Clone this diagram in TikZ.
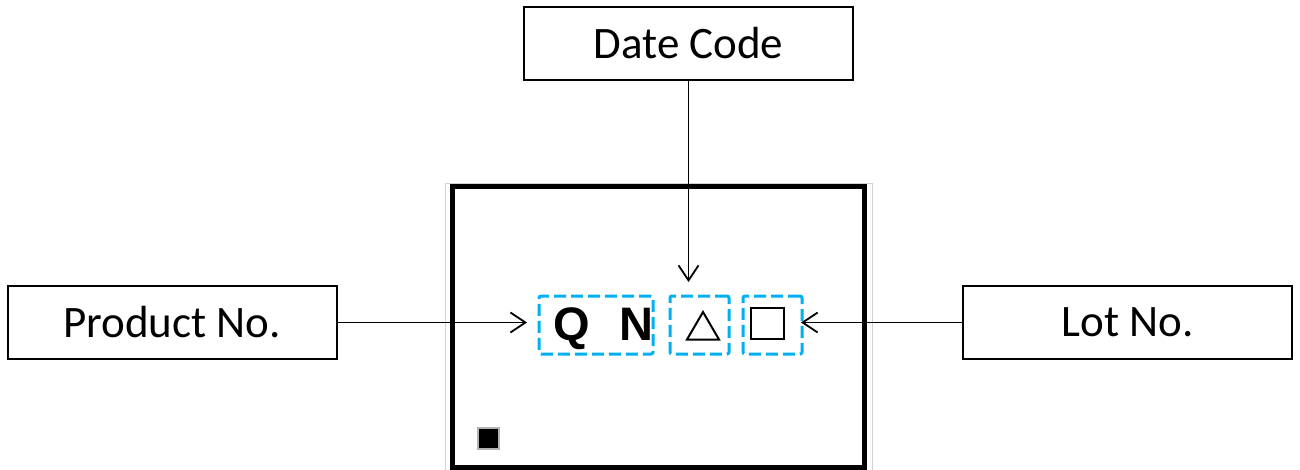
\documentclass[tikz,border=0pt]{standalone}
\usepackage{fontspec}
\setmainfont{Carlito}
\newfontfamily\arialfont{Liberation Sans}
\usetikzlibrary{arrows.meta}
\definecolor{dashblue}{HTML}{00B0F0}
\tikzset{
  labelbox/.style={draw=black, line width=2pt, minimum width=329pt, minimum height=73pt, inner sep=0pt, font=\fontsize{45}{54}\selectfont},
  markbox/.style={draw=dashblue, line width=3pt, dash pattern=on 12pt off 5pt, rounded corners=2pt, inner sep=0pt, minimum height=58pt},
  conn/.style={line width=1.8pt, -{Straight Barb[length=15pt,width=20pt,line width=1.8pt]}},
  letter/.style={font=\arialfont\bfseries\fontsize{47}{50}\selectfont, inner sep=0pt, anchor=base}
}
\begin{document}
\begin{tikzpicture}[x=1pt,y=-1pt]
\useasboundingbox (0,0) rectangle (1300,470);
% package outline
\draw[gray!35, line width=1pt] (445,480) -- (445,184) -- (872,184) -- (872,480);
\draw[black, line width=5pt] (452.5,467) rectangle (864,187);
% pin-1 mark
\node[draw=gray!60, fill=black, line width=2pt, minimum size=21pt, inner sep=0pt] (pin) at (488,438.5) {};
% marking boxes
\node[markbox, minimum width=114pt] (qn) at (596,325) {};
\node[markbox, minimum width=59pt] (tri) at (699.5,325) {};
\node[markbox, minimum width=59pt] (sq) at (772.5,325) {};
\node[letter] (q) at (572,340.5) {Q};
\node[letter] (n) at (636,340.5) {N};
\draw[line width=2pt, line join=miter] (687,339.5) -- (719,339.5) -- (703,312) -- cycle;
\draw[line width=2.5pt] (751,308) rectangle (784,339);
% label boxes
\node[labelbox] (date) at (688.5,43.5) {Date Code};
\node[labelbox] (prod) at (172,322.5) {Product No.};
\node[labelbox] (lot) at (1127.5,322.5) {Lot No.};
% connectors
\coordinate (dtip) at (688.5,282);
\coordinate (ptip) at (527,322.5);
\coordinate (ltip) at (801,322.5);
\draw[conn] (date.south) -- (dtip);
\draw[conn] (prod.east) -- (ptip);
\draw[conn] (lot.west) -- (ltip);
\end{tikzpicture}
\end{document}
